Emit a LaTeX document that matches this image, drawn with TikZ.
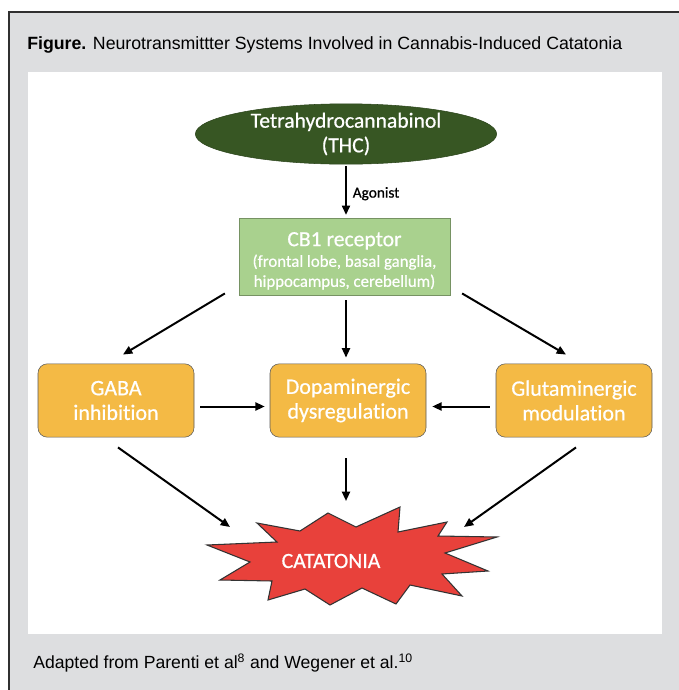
\documentclass[tikz,border=0pt]{standalone}
\usepackage{fontspec}
\setmainfont{Carlito}
\newfontfamily\diagfont[FakeBold=0.6, Ligatures=NoCommon]{Carlito}
\newfontfamily\capfont{Liberation Sans}
\usetikzlibrary{shapes.geometric}
\usetikzlibrary{arrows.meta}

\definecolor{panelgray}{HTML}{DDDEE0}
\definecolor{framegray}{HTML}{303030}
\definecolor{thcgreen}{HTML}{375623}
\definecolor{cbgreen}{HTML}{A9D18E}
\definecolor{boxorange}{HTML}{F4BA45}
\definecolor{burstred}{HTML}{E8413B}

\begin{document}
\begin{tikzpicture}[x=0.75pt, y=-0.75pt,
  thcnode/.style={ellipse, draw=thcgreen!80!black, fill=thcgreen, text=white,
    minimum width=226pt, minimum height=43pt, inner sep=0pt, align=center,
    font=\diagfont\fontsize{16.2}{18.5}\selectfont},
  cbnode/.style={rectangle, draw=cbgreen!70!black, fill=cbgreen, text=white,
    minimum width=158pt, minimum height=58pt, align=center,
    font=\diagfont\fontsize{12.6}{15}\selectfont},
  pathnode/.style={rectangle, rounded corners=7pt, draw=black!65, fill=boxorange,
    text=white, minimum width=117pt, minimum height=55pt, align=center,
    font=\diagfont\fontsize{16.5}{18.5}\selectfont},
  arr/.style={-{Triangle[length=7pt,width=6pt]}, line width=1.5pt, black}]

  \useasboundingbox (0,0) rectangle (679,690);

  % panel and frame
  \fill[panelgray] (9,12) rectangle (679,690);
  \draw[framegray, line width=1.5pt] (9,690) -- (9,12) -- (679,12);
  \fill[white] (28,72) rectangle (662,634);

  % title and caption
  \node[anchor=west, inner sep=0pt, font=\capfont\fontsize{13.3}{15}\selectfont]
    (title) at (27,45) {\textbf{Figure.} Neurotransmittter Systems Involved in Cannabis-Induced Catatonia};
  \node[anchor=west, inner sep=0pt, font=\capfont\fontsize{13.2}{15}\selectfont]
    (source) at (33,663) {Adapted from Parenti et al\textsuperscript{8} and Wegener et al.\textsuperscript{10}};

  % nodes
  \node[thcnode] (thc) at (346,134) {Tetrahydrocannabinol\\(THC)};
  \node[cbnode] (cb1) at (344.5,256.5)
    {\rule{0pt}{17pt}{\fontsize{16.2}{18.5}\selectfont CB1 receptor}\\[0.5pt]
     (frontal lobe, basal ganglia,\\
     hippocampus, cerebellum)};
  \foreach \name/\xc/\txt in {gaba/116/{GABA\\inhibition},
                              dopa/348/{Dopaminergic\\dysregulation},
                              glut/574/{Glutaminergic\\modulation}} {
    \node[pathnode] (\name) at (\xc,400.5) {\txt};
  }

  % catatonia burst
  \draw[draw=black!80, fill=burstred, line width=0.8pt]
    (257,523) -- (300,531) -- (328,513) -- (356,527) -- (400,507) -- (398,532)
    -- (447,522) -- (438,536) -- (497,537) -- (445,553) -- (488,571) -- (442,574)
    -- (462,596) -- (410,585) -- (396,604) -- (362,588) -- (330,605) -- (305,589)
    -- (268,600) -- (272,581) -- (220,580) -- (250,562) -- (207,545) -- (277,542)
    -- cycle;
  \node[text=white, font=\diagfont\fontsize{16.3}{18}\selectfont] (cat) at (331,561) {CATATONIA};

  % connectors
  \draw[arr, shorten <=1pt, shorten >=2pt] (thc.south) -- (thc.south |- cb1.north)
    node[midway, right, text=black, font=\diagfont\fontsize{11.5}{13}\selectfont, xshift=1pt, yshift=-2pt] {Agonist};
  \draw[arr] ([shift={(-14,-2)}]cb1.south west) -- ([shift={(7,-9)}]gaba.north);
  \draw[arr] ([shift={(1.5,5)}]cb1.south) -- ([shift={(-2,-6)}]dopa.north);
  \draw[arr] ([shift={(12,-2)}]cb1.south east) -- ([shift={(-8,-9)}]glut.north);
  \draw[arr] ([shift={(6,6)}]gaba.east) -- ([shift={(-5,6)}]dopa.west);
  \draw[arr] ([shift={(-6,6)}]glut.west) -- ([shift={(6,6)}]dopa.east);
  \draw[arr] ([shift={(2,10)}]gaba.south) -- ([shift={(-101,-34)}]cat.center);
  \draw[arr] ([shift={(-2,21)}]dopa.south) -- ([shift={(15,-60)}]cat.center);
  \draw[arr] ([shift={(2,10)}]glut.south) -- ([shift={(133,-34)}]cat.center);
\end{tikzpicture}
\end{document}
